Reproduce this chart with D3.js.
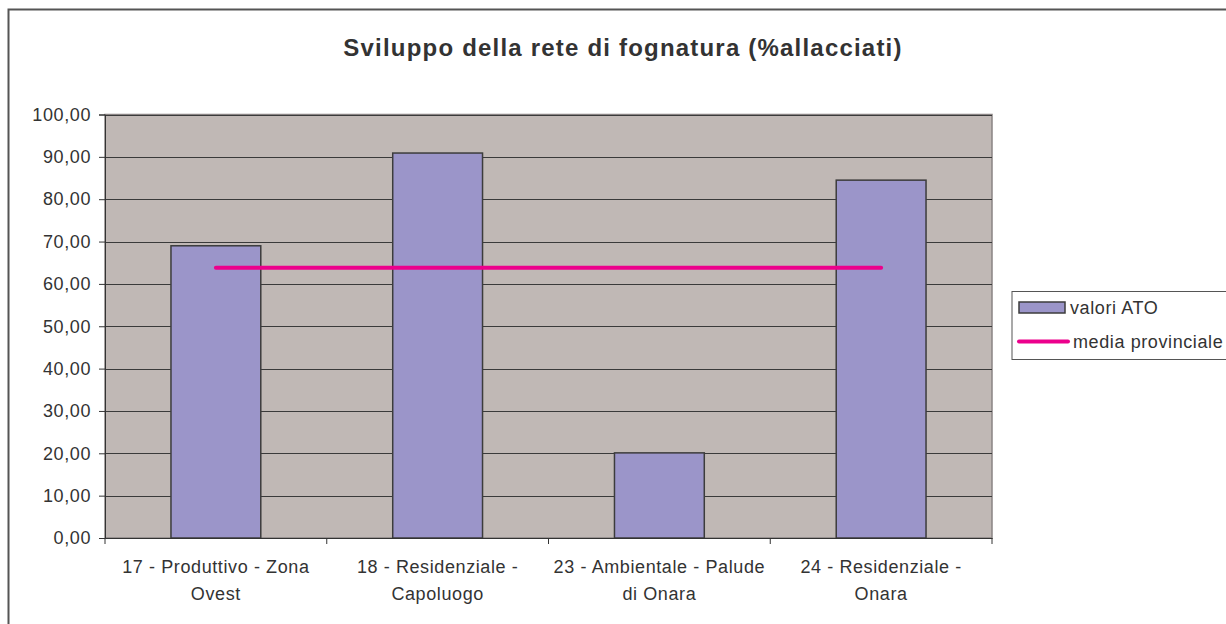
<!DOCTYPE html>
<html><head><meta charset="utf-8">
<script src="https://cdn.jsdelivr.net/npm/d3@7"></script>
<style>body{margin:0;background:#fff;} svg{display:block;font-family:"Liberation Sans",Arial,sans-serif;}</style>
</head><body>
<script>
const categories = [["17 - Produttivo - Zona","Ovest"],["18 - Residenziale -","Capoluogo"],["23 - Ambientale - Palude","di Onara"],["24 - Residenziale -","Onara"]];
const valoriATO = [69.0, 90.9, 20.1, 84.5];
const mediaProvinciale = [63.8, 63.8, 63.8, 63.8];
const yTicks = [0,10,20,30,40,50,60,70,80,90,100];
const title = "Sviluppo della rete di fognatura (%allacciati)";
const legendLabels = ["valori ATO","media provinciale"];

const W=1226,H=624;
const svg=d3.select("body").append("svg").attr("width",W).attr("height",H);
svg.append("path").attr("d",`M8.5,${H} V9.5 H${W}`).attr("fill","none").attr("stroke","#555").attr("stroke-width",2);

const L=105,R=992,T=114.5,B=538;
const keys=categories.map((c,i)=>i);
const x=d3.scaleBand().domain(keys).range([L,R]).paddingInner(0.595).paddingOuter(0.2975);
const xOuter=d3.scaleBand().domain(keys).range([L,R]);
const y=d3.scaleLinear().domain([0,100]).range([B,T]);

svg.append("rect").attr("x",L).attr("y",T).attr("width",R-L).attr("height",B-T).attr("fill","#C0B8B5").attr("stroke","#8a8484").attr("stroke-width",1.5);

svg.append("g").selectAll("line").data(yTicks.filter(d=>d>0)).join("line")
  .attr("x1",L).attr("x2",R).attr("y1",d=>Math.round(y(d))+0.5).attr("y2",d=>Math.round(y(d))+0.5)
  .attr("stroke","#3a3a3a").attr("stroke-width",1);

const yAxis=d3.axisLeft(y).tickValues(yTicks).tickSize(6).tickPadding(8)
  .tickFormat(d=>d3.format(".2f")(d).replace(".",","));
const gy=svg.append("g").attr("transform",`translate(${L},0)`).call(yAxis);
gy.select(".domain").attr("stroke","#333");
gy.selectAll(".tick line").attr("stroke","#333");
gy.selectAll("text").attr("font-size",18).attr("letter-spacing",0.6).attr("fill","#333").attr("font-family","Liberation Sans, Arial, sans-serif");

svg.append("g").selectAll("rect").data(valoriATO).join("rect")
  .attr("x",(d,i)=>x(i)).attr("width",x.bandwidth())
  .attr("y",d=>y(d)).attr("height",d=>B-y(d))
  .attr("fill","#9B95C9").attr("stroke","#3c3c3c").attr("stroke-width",1.5);

const xAxis=d3.axisBottom(xOuter).tickSize(0).tickFormat("");
const gx=svg.append("g").attr("transform",`translate(0,${B})`).call(xAxis);
gx.select(".domain").attr("stroke","#333");
const bounds=[...keys.map(k=>xOuter(k)),R];
svg.append("g").selectAll("line").data(bounds).join("line")
  .attr("x1",d=>d).attr("x2",d=>d).attr("y1",B).attr("y2",B+6).attr("stroke","#333");
const lab=svg.append("g").selectAll("text").data(categories).join("text")
  .attr("x",(d,i)=>xOuter(i)+xOuter.bandwidth()/2).attr("y",573)
  .attr("text-anchor","middle").attr("font-size",18).attr("letter-spacing",0.6).attr("fill","#333");
lab.each(function(d){
  const t=d3.select(this);
  d.forEach((s,j)=>t.append("tspan").attr("x",t.attr("x")).attr("dy",j?27:0).text(s));
});

const line=d3.line().x((d,i)=>xOuter(i)+xOuter.bandwidth()/2).y(d=>y(d));
svg.append("path").datum(mediaProvinciale).attr("d",line).attr("fill","none")
  .attr("stroke","#EC008C").attr("stroke-width",4).attr("stroke-linecap","round");

svg.append("text").attr("x",623).attr("y",56).attr("text-anchor","middle")
  .attr("font-size",24).attr("letter-spacing",1.2).attr("font-weight","bold").attr("fill","#333").text(title);

const lg=svg.append("g");
lg.append("rect").attr("x",1012).attr("y",291.5).attr("width",W).attr("height",68).attr("fill","#fff").attr("stroke","#555").attr("stroke-width",1);
lg.append("rect").attr("x",1019).attr("y",302).attr("width",46).attr("height",11).attr("fill","#9B95C9").attr("stroke","#3c3c3c").attr("stroke-width",1.5);
lg.append("line").attr("x1",1019).attr("x2",1068).attr("y1",341.5).attr("y2",341.5).attr("stroke","#EC008C").attr("stroke-width",4).attr("stroke-linecap","round");
lg.selectAll("text.l").data(legendLabels).join("text").attr("class","l")
  .attr("x",(d,i)=>i?1073:1070).attr("y",(d,i)=>i?348:314).attr("font-size",18).attr("letter-spacing",0.6).attr("fill","#333").text(d=>d);
</script>
</body></html>
